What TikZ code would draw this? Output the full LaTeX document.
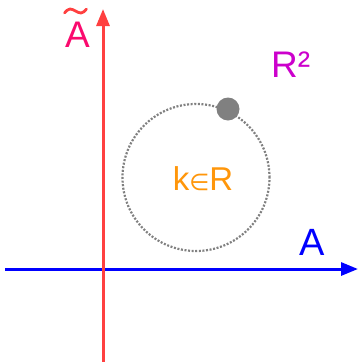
\documentclass[tikz,border=0pt]{standalone}
\usepackage{fontspec}
\setmainfont{Liberation Sans}
\newfontfamily\djv{DejaVu Sans}
\usetikzlibrary{arrows.meta}
\definecolor{axred}{RGB}{255,64,64}
\definecolor{axblue}{RGB}{0,0,255}
\definecolor{tpink}{RGB}{250,10,110}
\definecolor{tmag}{RGB}{204,0,204}
\definecolor{torange}{RGB}{255,150,10}
\definecolor{cgray}{RGB}{128,128,128}
\tikzset{
  axis/.style={line width=3pt,-{Triangle[length=17pt,width=13pt]}},
  lbl/.style={inner sep=0pt,font=\fontsize{37}{42}\selectfont},
}
\begin{document}
\begin{tikzpicture}[x=1pt,y=-1pt]
\useasboundingbox (0,0) rectangle (358,362);
\coordinate (xs) at (5,269);
\coordinate (xe) at (358,269);
\coordinate (ys) at (103,362);
\coordinate (ye) at (103,9);
\draw[axis,axblue] (xs) -- (xe);
\draw[axis,axred] (ys) -- (ye);
\node[circle,draw=cgray,line width=2.2pt,dash pattern=on 2pt off 1.6pt,minimum size=147pt,inner sep=0pt] (c) at (196,177.5) {};
\node[circle,fill=cgray,minimum size=23pt,inner sep=0pt] (p) at (228,109) {};
\node[lbl,text=torange,font=\fontsize{33}{38}\selectfont] (k) at (203,179) {k{\djv\fontsize{23}{28}\selectfont ∈}R};
\node[lbl,text=tpink,anchor=base] (at) at (77.5,47.5) {A};
\coordinate (t0) at (64.5,13);
\draw[axred,line width=2.8pt,line cap=round] (t0) sin ++(5.5,-4) cos ++(5.5,2) sin ++(5.5,2) cos ++(5.5,-4);
\node[lbl,text=tmag,anchor=base west] (r2) at (271,77) {R²};
\node[lbl,text=axblue,anchor=base,font=\fontsize{38}{42}\selectfont] (a) at (312.5,255) {A};
\end{tikzpicture}
\end{document}
